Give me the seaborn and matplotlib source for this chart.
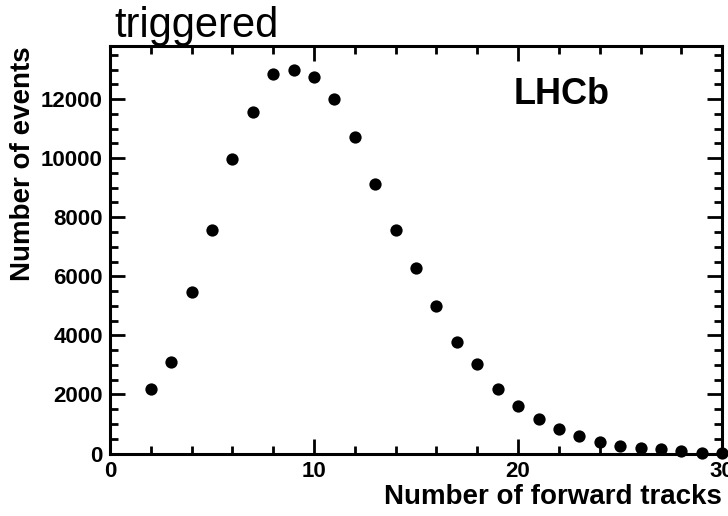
import matplotlib
matplotlib.use("Agg")
import matplotlib.pyplot as plt
import seaborn as sns
import pandas as pd
from matplotlib.ticker import MultipleLocator

tracks = list(range(2, 31))
events = [2170, 3100, 5460, 7570, 9980, 11560, 12850, 13000, 12750, 12010,
          10720, 9110, 7580, 6270, 5000, 3760, 3020, 2170, 1600, 1160,
          840, 610, 380, 250, 190, 150, 100, 30, 30]

title_text = "triggered"
experiment = "LHCb"
xlabel = "Number of forward tracks"
ylabel = "Number of events"

df = pd.DataFrame({"tracks": tracks, "events": events})

sns.set_theme(style="white")
plt.rcParams['font.family'] = ['Liberation Sans', 'DejaVu Sans']
plt.rcParams['text.color'] = 'black'
plt.rcParams['axes.labelcolor'] = 'black'
plt.rcParams['xtick.color'] = 'black'
plt.rcParams['ytick.color'] = 'black'

fig = plt.figure(figsize=(7.28, 5.16), dpi=100)
ax = fig.add_axes([0.151, 0.121, 0.841, 0.790])

sns.scatterplot(data=df, x="tracks", y="events", ax=ax, color="black",
                s=78, edgecolor="black", linewidth=0, clip_on=False, zorder=5)

ax.set_xlim(0, 30)
ax.set_ylim(0, 13800)
ax.xaxis.set_major_locator(MultipleLocator(10))
ax.xaxis.set_minor_locator(MultipleLocator(2))
ax.yaxis.set_major_locator(MultipleLocator(2000))
ax.yaxis.set_minor_locator(MultipleLocator(500))

for sp in ax.spines.values():
    sp.set_linewidth(2.2)
    sp.set_color("black")

ax.tick_params(which="both", direction="in", top=True, right=True,
               bottom=True, left=True, width=2, color="black")
ax.tick_params(which="major", length=11, labelsize=16, pad=5)
ax.tick_params(which="minor", length=6)
for lab in ax.get_xticklabels() + ax.get_yticklabels():
    lab.set_fontweight("bold")

ax.set_xlabel(xlabel, fontsize=20, fontweight="bold", loc="right", labelpad=2)
ax.set_ylabel(ylabel, fontsize=20, fontweight="bold", loc="top", labelpad=4)

fig.text(0.157, 0.928, title_text, fontsize=30, ha="left", va="baseline")
ax.text(0.737, 0.88, experiment, transform=ax.transAxes, fontsize=26,
        fontweight="bold", ha="center", va="center")

fig.savefig("out.png", dpi=100)
